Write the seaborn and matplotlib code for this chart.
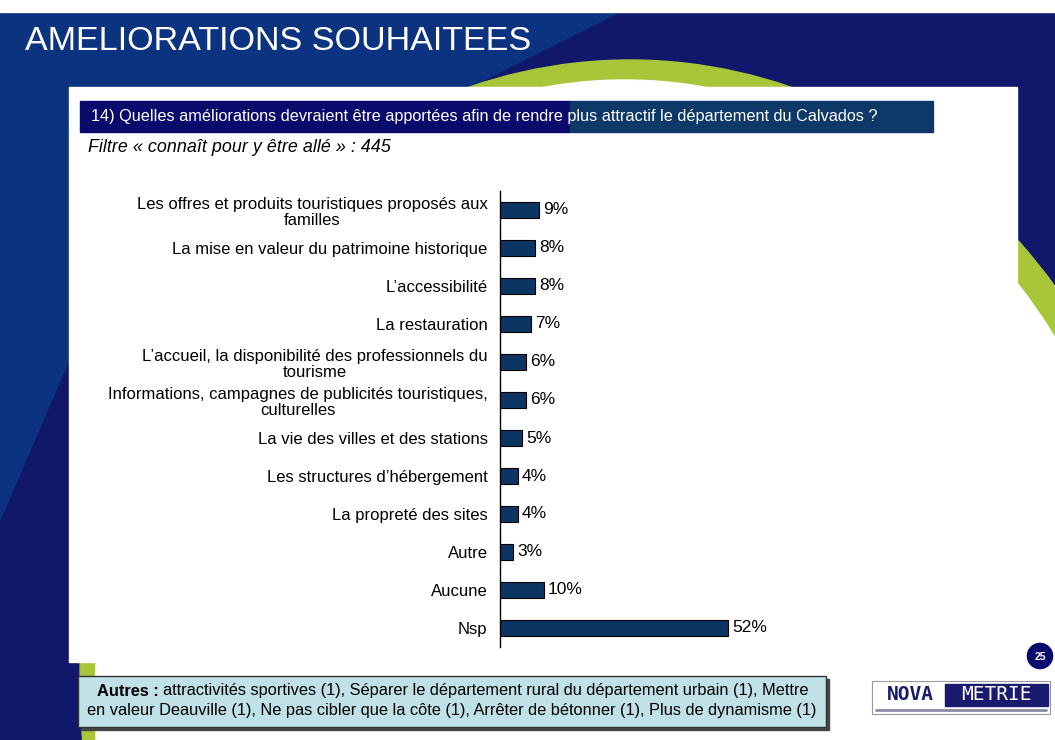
import matplotlib
matplotlib.use("Agg")
import matplotlib.pyplot as plt
from matplotlib.patches import Rectangle, Circle, Ellipse, Polygon
import seaborn as sns
import pandas as pd

# Données du graphique
categories = [
    "Les offres et produits touristiques proposés aux\nfamilles",
    "La mise en valeur du patrimoine historique",
    "L\u2019accessibilité",
    "La restauration",
    "L\u2019accueil, la disponibilité des professionnels du\ntourisme",
    "Informations, campagnes de publicités touristiques,\nculturelles",
    "La vie des villes et des stations",
    "Les structures d\u2019hébergement",
    "La propreté des sites",
    "Autre",
    "Aucune",
    "Nsp",
]
valeurs = [9, 8, 8, 7, 6, 6, 5, 4, 4, 3, 10, 52]

titre = "AMELIORATIONS SOUHAITEES"
question = "14) Quelles améliorations devraient être apportées afin de rendre plus attractif le département du Calvados ?"
filtre = "Filtre « connaît pour y être allé » : 445"
autres_1 = "attractivités sportives (1), Séparer le département rural du département urbain (1), Mettre"
autres_2 = "en valeur Deauville (1), Ne pas cibler que la côte (1), Arrêter de bétonner (1), Plus de dynamisme (1)"

sns.set_style("white")
plt.rcParams['font.family'] = ['Liberation Sans', 'DejaVu Sans']
plt.rcParams['text.color'] = 'black'

W, H = 1055, 740
fig = plt.figure(figsize=(W / 100, H / 100), dpi=100)

# Fond de la diapositive (coordonnées en pixels)
bg = fig.add_axes([0, 0, 1, 1], zorder=0)
bg.set_xlim(0, W)
bg.set_ylim(H, 0)
bg.axis('off')
bg.add_patch(Rectangle((0, 0), W, H, color='#11176a'))
bg.add_patch(Polygon([(0, 12), (620, 12), (470, 87), (69, 360), (0, 520)], color='#0c3380'))
bg.add_patch(Rectangle((0, 0), W, 12, color='white'))
bg.add_patch(Ellipse((630, 680), 1100, 1240, color='#a9c53a'))
bg.add_patch(Ellipse((625, 700), 1060, 1240, color='white'))

# Panneau blanc
bg.add_patch(Rectangle((69, 87), 948, 575, color='white'))

# Titre
bg.text(25, 42, titre, color='white', fontsize=24.6, va='center', ha='left')

# Bandeau de la question
bg.add_patch(Rectangle((80, 101), 490, 31, color='#0a0a6c'))
bg.add_patch(Rectangle((570, 101), 363, 31, color='#0d3868'))
bg.text(91, 117, question, color='white', fontsize=11.7, va='center', ha='left')
bg.text(88, 148, filtre, fontsize=12.9, style='italic', va='center', ha='left')

# Encadré "Autres"
bg.add_patch(Rectangle((81, 679), 748, 51, color='#444444'))
bg.add_patch(Rectangle((78, 676), 748, 51, facecolor='#bfe1e7', edgecolor='#333333', lw=1))
t_autres = bg.text(97, 691, "Autres :", fontsize=11.8, fontweight='bold', va='center', ha='left')
bg.annotate(autres_1, xy=(1, 0.5), xycoords=t_autres, xytext=(3, 0), textcoords='offset points',
            fontsize=11.8, va='center', ha='left')
bg.text(452, 711, autres_2, fontsize=11.75, va='center', ha='center')

# Numéro de page
bg.add_patch(Circle((1040, 656), 14, facecolor='#0a0a6c', edgecolor='white', lw=1))
bg.text(1040, 657, "25", color='white', fontsize=7.5, fontweight='bold', va='center', ha='center')

# Logo
bg.add_patch(Rectangle((872, 681), 178, 33, facecolor='white', edgecolor='#999999', lw=0.8))
bg.add_patch(Rectangle((945, 684), 103, 22, color='#1a1a6e'))
bg.text(910, 695, "NOVA", color='#1a1a6e', fontsize=14, family='DejaVu Sans Mono',
        fontweight='bold', va='center', ha='center')
bg.text(996, 695, "METRIE", color='white', fontsize=14, family='DejaVu Sans Mono',
        va='center', ha='center')
bg.plot([876, 1046], [710, 710], color='#8a8aa8', lw=2)

# Graphique en barres
ax = fig.add_axes([500 / W, (H - 647) / H, 263 / W, 456 / H], zorder=2)
ax.patch.set_alpha(0)
df = pd.DataFrame({'item': categories, 'pct': valeurs})
sns.barplot(data=df, x='pct', y='item', orient='h', color='#0d3563', width=0.4,
            edgecolor='black', linewidth=0.8, saturation=1, ax=ax)
ax.set_xlim(0, 60)
ax.set_ylim(len(categories) - 0.5, -0.5)
ax.bar_label(ax.containers[0], labels=[f"{v}%" for v in valeurs], padding=3,
             fontsize=12.5, color='black')

for s in ['top', 'right', 'bottom']:
    ax.spines[s].set_visible(False)
ax.spines['left'].set_color('black')
ax.spines['left'].set_linewidth(1)
ax.set_xticks([])
ax.set_xlabel('')
ax.set_ylabel('')
ax.set_yticks(range(len(categories)))
ax.set_yticklabels(categories, fontsize=12, color='black')
for t in ax.get_yticklabels():
    t.set_multialignment('center')
    t.set_linespacing(1.1)
ax.tick_params(axis='y', which='major', length=0, pad=9)
ax.set_yticks([i - 0.5 for i in range(len(categories) + 1)], minor=True)
ax.tick_params(axis='y', which='minor', length=5, width=1, direction='out', color='black')

fig.savefig('out.png', dpi=100)
